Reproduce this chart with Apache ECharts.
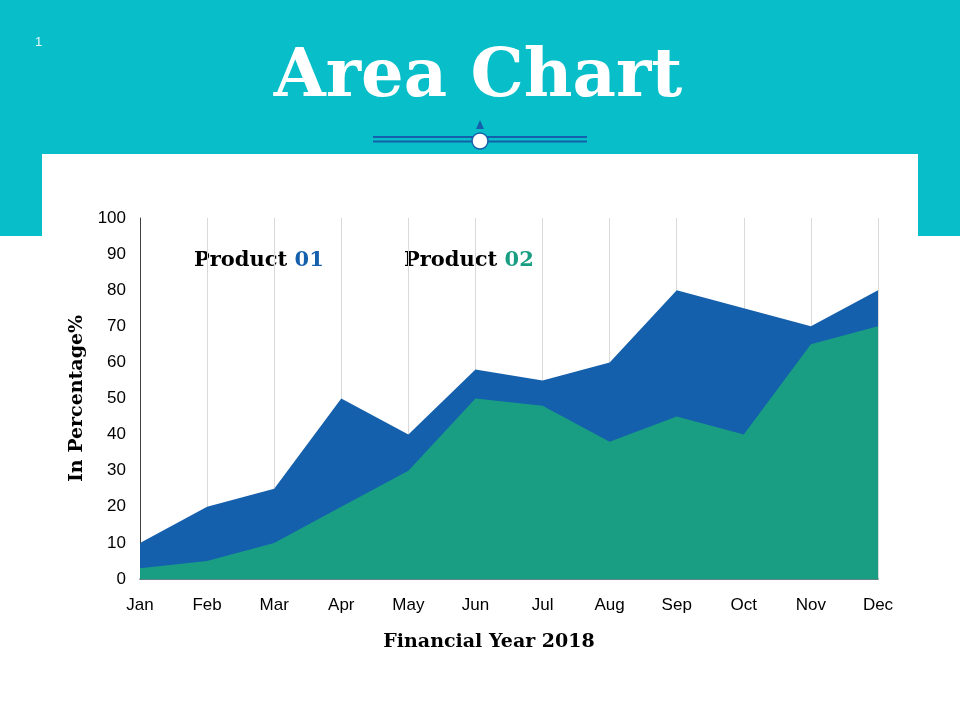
<!DOCTYPE html>
<html lang="en">
<head>
    <meta charset="UTF-8">
    <title>Area Chart</title>
    <style>
        html, body { margin: 0; padding: 0; background: #fff; }
        #main { width: 960px; height: 720px; }
    </style>
    <script src="https://cdn.jsdelivr.net/npm/echarts@6/dist/echarts.min.js"></script>
</head>
<body>
    <div id="main"></div>
    <script>
        // chart data
        let months = ['Jan', 'Feb', 'Mar', 'Apr', 'May', 'Jun', 'Jul', 'Aug', 'Sep', 'Oct', 'Nov', 'Dec'];
        let product01 = [10, 20, 25, 50, 40, 58, 55, 60, 80, 75, 70, 80];
        let product02 = [3, 5, 10, 20, 30, 50, 48, 38, 45, 40, 65, 70];

        let blue = '#1560ac';
        let green = '#1a9e83';
        let teal = '#08bfc9';
        let serif = '"DejaVu Serif", "Liberation Serif", serif';
        let sans = '"Liberation Sans", Arial, sans-serif';

        let chart = echarts.init(document.getElementById('main'));
        let option = {
            backgroundColor: '#fff',
            animation: false,
            graphic: [
                { type: 'rect', z: -10, shape: { x: 0, y: 0, width: 960, height: 236 }, style: { fill: teal } },
                { type: 'rect', z: -9, shape: { x: 42, y: 154, width: 876, height: 566 }, style: { fill: '#fff' } },
                { type: 'text', x: 35, y: 36, style: { text: '1', fill: '#e8f8fa', font: '13px ' + sans } },
                { type: 'text', x: 478, y: 79, style: { text: 'Area Chart', fill: '#fff', font: 'bold 67px ' + serif, textAlign: 'center', textVerticalAlign: 'middle' } },
                { type: 'line', shape: { x1: 373, y1: 137, x2: 587, y2: 137 }, style: { stroke: blue, lineWidth: 2 } },
                { type: 'line', shape: { x1: 373, y1: 141.5, x2: 587, y2: 141.5 }, style: { stroke: blue, lineWidth: 2 } },
                { type: 'polygon', shape: { points: [[480, 120], [476, 129], [484, 129]] }, style: { fill: blue } },
                { type: 'circle', shape: { cx: 480, cy: 141, r: 8 }, style: { fill: '#fff', stroke: blue, lineWidth: 1.5 } },
                {
                    type: 'text', x: 194, y: 261,
                    style: {
                        text: '{a|Product }{b|01}',
                        textVerticalAlign: 'middle',
                        rich: {
                            a: { font: 'bold 21px ' + serif, fill: '#000' },
                            b: { font: 'bold 21px ' + serif, fill: blue }
                        }
                    }
                },
                {
                    type: 'text', x: 404, y: 261,
                    style: {
                        text: '{a|Product }{b|02}',
                        textVerticalAlign: 'middle',
                        rich: {
                            a: { font: 'bold 21px ' + serif, fill: '#000' },
                            b: { font: 'bold 21px ' + serif, fill: green }
                        }
                    }
                }
            ],
            grid: { left: 140, right: 82, top: 218, bottom: 141 },
            xAxis: {
                type: 'category',
                data: months,
                boundaryGap: false,
                name: 'Financial Year 2018',
                nameLocation: 'middle',
                nameGap: 54,
                nameTextStyle: { fontFamily: serif, fontWeight: 'bold', fontSize: 19, color: '#000', padding: [0, 40, 0, 0] },
                axisLine: { lineStyle: { color: '#2f5f5f', width: 1.5 } },
                axisTick: { show: false },
                axisLabel: { color: '#000', fontSize: 17, fontFamily: sans, margin: 18 },
                splitLine: { show: true, lineStyle: { color: '#d9d9d9', width: 1 } }
            },
            yAxis: {
                type: 'value',
                min: 0,
                max: 100,
                interval: 10,
                name: 'In Percentage%',
                nameLocation: 'middle',
                nameGap: 51,
                nameTextStyle: { fontFamily: serif, fontWeight: 'bold', fontSize: 19, color: '#000' },
                axisLine: { show: true, lineStyle: { color: '#404040', width: 1 } },
                axisTick: { show: false },
                axisLabel: { color: '#000', fontSize: 17, fontFamily: sans, margin: 14 },
                splitLine: { show: false }
            },
            series: [
                {
                    name: 'Product 01',
                    type: 'line',
                    data: product01,
                    symbol: 'none',
                    lineStyle: { width: 0 },
                    areaStyle: { color: blue, opacity: 1 },
                    z: 2
                },
                {
                    name: 'Product 02',
                    type: 'line',
                    data: product02,
                    symbol: 'none',
                    lineStyle: { width: 0 },
                    areaStyle: { color: green, opacity: 1 },
                    z: 3
                }
            ]
        };
        chart.setOption(option);
    </script>
</body>
</html>
